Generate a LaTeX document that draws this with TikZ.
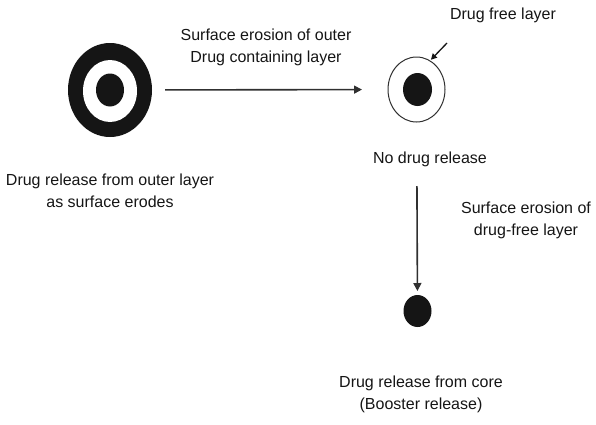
\documentclass[tikz,border=0pt]{standalone}
\usepackage{fontspec}
\setmainfont{Liberation Sans}
\usetikzlibrary{shapes.geometric,arrows.meta}
\definecolor{ink}{HTML}{151515}
\definecolor{linec}{HTML}{303030}
\tikzset{
  blob/.style={ellipse, inner sep=0pt, outer sep=0pt, fill=ink},
  hole/.style={ellipse, inner sep=0pt, outer sep=0pt, fill=white},
  ring/.style={ellipse, inner sep=0pt, outer sep=0pt, draw=linec, line width=1pt, fill=white},
  lbl/.style={align=center, inner sep=0pt, font=\fontsize{16}{22}\selectfont, text=ink},
  arr/.style={draw=linec, line width=1.6pt, -{Triangle[length=8pt,width=8pt]}},
  smallarr/.style={draw=ink, line width=1.3pt, -{Triangle[length=6pt,width=6pt]}}
}
\begin{document}
\begin{tikzpicture}[x=1pt,y=-1pt]
\useasboundingbox (0,0) rectangle (596,424);
% left target
\node[blob, minimum width=84pt, minimum height=94pt] (L) at (110,90) {};
\node[hole, minimum width=54pt, minimum height=62pt] (Lh) at (110,91) {};
\node[blob, minimum width=28pt, minimum height=33pt] (Lc) at (110,90) {};
% middle target
\node[ring, minimum width=57pt, minimum height=65pt] (M) at (416.5,89.5) {};
\node[blob, minimum width=29pt, minimum height=33pt] (Mc) at (417.5,89.5) {};
% core
\node[blob, minimum width=28pt, minimum height=32pt] (C) at (417.5,311) {};
% labels
\node[lbl] (t1) at (266,47) {Surface erosion of outer\\Drug containing layer};
\node[lbl] (t2) at (110,191) {Drug release from outer layer\\as surface erodes};
\node[lbl] (t3) at (503,15) {Drug free layer};
\node[lbl] (t4) at (430,159) {No drug release};
\node[lbl] (t5) at (526,220) {Surface erosion of\\drug-free layer};
\node[lbl] (t6) at (421,394) {Drug release from core\\(Booster release)};
% connectors
\draw[arr, shorten <=13pt, shorten >=26pt] (L) -- (M);
\draw[arr, shorten <=64pt, shorten >=4pt] (M) -- (C);
\coordinate (fa) at (447,43);
\draw[smallarr, shorten >=1.5pt] (fa) -- (M.65);
\end{tikzpicture}
\end{document}
